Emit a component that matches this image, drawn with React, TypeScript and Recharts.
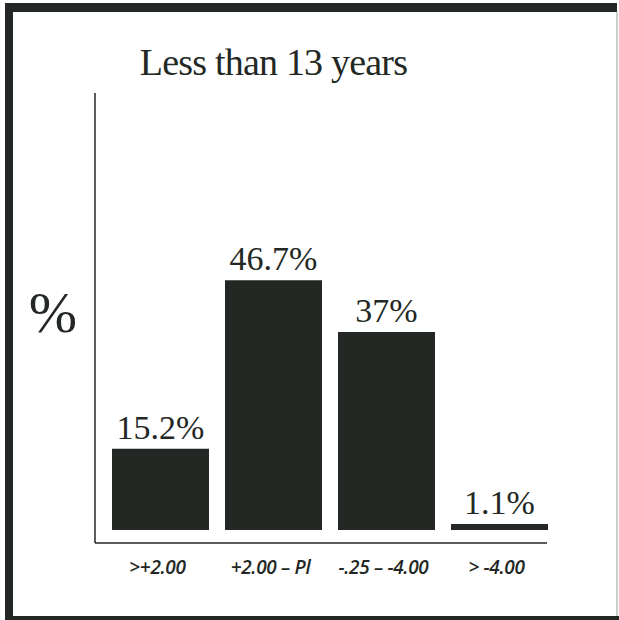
import { Bar, BarChart, LabelList, XAxis, YAxis } from "recharts";

const categories = [">+2.00", "+2.00 – Pl", "-.25 – -4.00", "> -4.00"];
const percents = [15.2, 46.7, 37, 1.1];
const valueLabels = ["15.2%", "46.7%", "37%", "1.1%"];

const data = categories.map((name, i) => ({ name, pct: percents[i], label: valueLabels[i] }));

const INK = "#232824";
const SERIF = "'Liberation Serif', 'DejaVu Serif', serif";

function Tick({ x, y, payload }: any) {
  return (
    <text
      x={x - 3}
      y={y + 31}
      textAnchor="middle"
      fontFamily="'Open Sans', 'Liberation Sans', sans-serif"
      fontStyle="italic"
      fontWeight={600}
      fontSize={19}
      letterSpacing={-0.3}
      fill={INK}
    >
      {payload.value}
    </text>
  );
}

export default function App() {
  return (
    <div style={{ position: "absolute", left: 0, top: 0, width: 619, height: 620, background: "#fff" }}>
      <BarChart
        width={619}
        height={620}
        data={data}
        margin={{ top: 93, right: 63, bottom: 37, left: 94 }}
        barSize={97}
        style={{ position: "absolute", left: 0, top: 0 }}
      >
        <XAxis
          dataKey="name"
          height={40}
          padding={{ left: 9, right: 0 }}
          axisLine={{ stroke: INK, strokeWidth: 1.5, strokeDasharray: "452 1000" }}
          tickLine={false}
          tickSize={0}
          tickMargin={0}
          tick={<Tick />}
          interval={0}
        />
        <YAxis
          width={1}
          domain={[-2.43, 81.68]}
          allowDataOverflow
          axisLine={{ stroke: INK, strokeWidth: 1.5 }}
          tick={false}
          tickLine={false}
        />
        <Bar dataKey="pct" fill={INK} isAnimationActive={false}>
          <LabelList
            dataKey="label"
            position="top"
            offset={10}
            fill={INK}
            fontFamily={SERIF}
            fontSize={34}
          />
        </Bar>
      </BarChart>
      <svg width={619} height={620} style={{ position: "absolute", left: 0, top: 0, pointerEvents: "none" }}>
        {/* frame: heavy top/left/bottom, faint right */}
        <rect x={5} y={3} width={612} height={9} fill={INK} />
        <rect x={5} y={3} width={8} height={617} fill={INK} />
        <rect x={5} y={616} width={614} height={4} fill={INK} />
        <rect x={616} y={12} width={2} height={604} fill="#cfcfcf" />
        <text x={273.5} y={75} textAnchor="middle" fontFamily={SERIF} fontSize={38} letterSpacing={-0.8} fill={INK}>
          Less than 13 years
        </text>
        <text x={53} y={332} textAnchor="middle" fontFamily={SERIF} fontSize={58} fill={INK}>
          %
        </text>
      </svg>
    </div>
  );
}
